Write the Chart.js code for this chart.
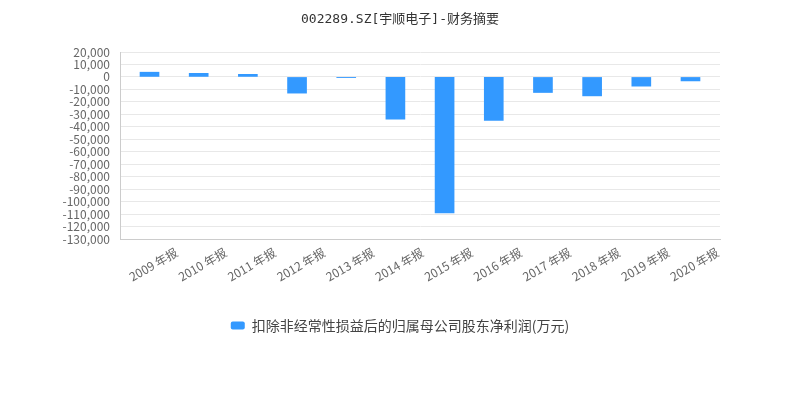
<!DOCTYPE html>
<html>
<head>
<meta charset="utf-8">
<script src="https://cdn.jsdelivr.net/npm/chart.js@4/dist/chart.umd.min.js"></script>
<style>
  html, body { margin: 0; padding: 0; background: #ffffff; }
  #wrap { width: 800px; height: 400px; position: relative; }
</style>
</head>
<body>
<div id="wrap"><canvas id="c"></canvas></div>
<script>
const titleText = '002289.SZ[宇顺电子]-财务摘要';
const seriesName = '扣除非经常性损益后的归属母公司股东净利润(万元)';
const categories = ['2009 年报', '2010 年报', '2011 年报', '2012 年报', '2013 年报', '2014 年报',
                    '2015 年报', '2016 年报', '2017 年报', '2018 年报', '2019 年报', '2020 年报'];
const netProfit = [3800, 2900, 2100, -13000, -600, -33800, -109000, -34900, -12500, -15200, -7400, -3200];
const yMin = -130000;
const yMax = 20000;
const yStep = 10000;

const cjk = "'Noto Sans CJK SC', 'Noto Sans', sans-serif";

new Chart(document.getElementById('c'), {
  type: 'bar',
  data: {
    datasets: [{
      label: seriesName,
      data: netProfit.map((v, i) => ({ x: i, y: v })),
      backgroundColor: '#3399ff',
      borderWidth: 0,
      barThickness: 19
    }]
  },
  options: {
    responsive: true,
    maintainAspectRatio: false,
    animation: false,
    layout: { padding: { top: 0, left: 0, right: 0, bottom: 57.5 } },
    plugins: {
      title: {
        display: true,
        text: titleText,
        color: '#333333',
        font: { family: "'DejaVu Sans Mono', 'Noto Sans CJK SC', monospace", size: 13, weight: 'normal' },
        padding: { top: 12, bottom: 24.4 }
      },
      legend: {
        display: true,
        position: 'bottom',
        labels: {
          color: '#444444',
          font: { family: cjk, size: 14 },
          boxWidth: 14,
          boxHeight: 8,
          useBorderRadius: true,
          borderRadius: 2,
          padding: 10
        }
      },
      tooltip: { enabled: false }
    },
    scales: {
      x: {
        type: 'linear',
        offset: false,
        min: -0.6,
        max: categories.length - 0.4,
        grid: { display: false, drawTicks: false },
        border: { display: true, color: '#cccccc', width: 1 },
        ticks: {
          stepSize: 1,
          autoSkip: false,
          minRotation: 30,
          maxRotation: 30,
          labelOffset: 27,
          padding: 6,
          color: '#666666',
          font: { family: cjk, size: 12 },
          callback: (v) => (Number.isInteger(v) && categories[v] !== undefined) ? categories[v] : ''
        },
        afterFit: (s) => { s.height = 69.5; }
      },
      y: {
        type: 'linear',
        min: yMin,
        max: yMax,
        grid: { color: '#e8e8e8', drawTicks: false },
        border: { display: true, color: '#cccccc', width: 1 },
        ticks: {
          stepSize: yStep,
          autoSkip: false,
          padding: 10,
          color: '#666666',
          font: { family: cjk, size: 12 },
          callback: (v) => Number(v).toLocaleString('en-US')
        },
        afterFit: (s) => { s.width = 120; }
      },
      yRightSpace: {
        type: 'linear',
        position: 'right',
        display: true,
        grid: { display: false, drawTicks: false },
        border: { display: false },
        ticks: { display: false },
        afterFit: (s) => { s.width = 80; }
      }
    }
  }
});
</script>
</body>
</html>
